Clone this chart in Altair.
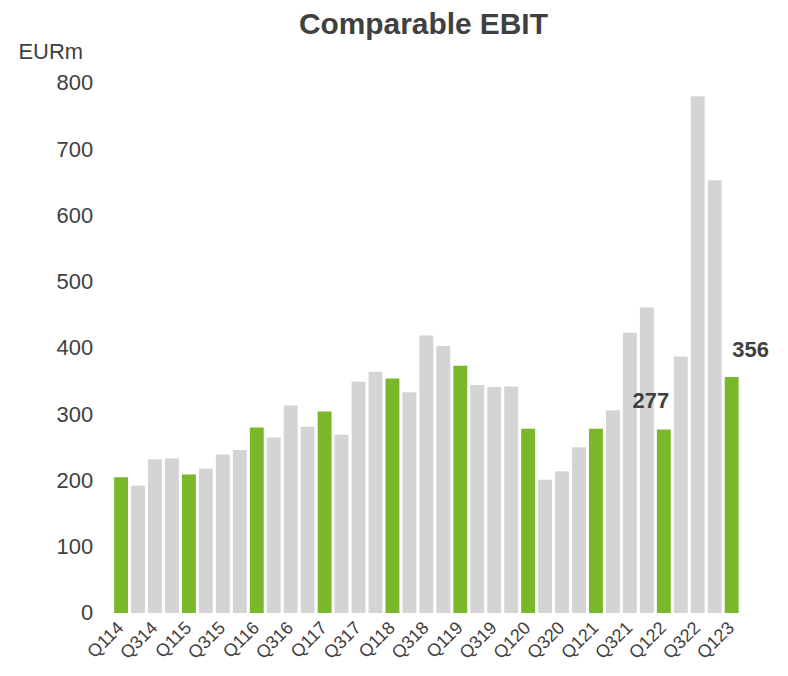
import altair as alt
import pandas as pd

quarters = [
    "Q114", "Q214", "Q314", "Q414",
    "Q115", "Q215", "Q315", "Q415",
    "Q116", "Q216", "Q316", "Q416",
    "Q117", "Q217", "Q317", "Q417",
    "Q118", "Q218", "Q318", "Q418",
    "Q119", "Q219", "Q319", "Q419",
    "Q120", "Q220", "Q320", "Q420",
    "Q121", "Q221", "Q321", "Q421",
    "Q122", "Q222", "Q322", "Q422",
    "Q123",
]
ebit = [
    205, 192, 232, 233,
    209, 218, 239, 246,
    280, 265, 313, 281,
    304, 269, 349, 364,
    354, 333, 419, 403,
    373, 344, 341, 342,
    278, 201, 214, 250,
    278, 306, 423, 461,
    277, 387, 780, 653,
    356,
]
labels = [""] * 32 + ["277", "", "", "", "356"]

GREEN = "#78B82A"
GREY = "#D4D4D4"
TEXT = "#404040"

df = pd.DataFrame({"quarter": quarters, "ebit": ebit, "label": labels})
df["kind"] = ["Q1" if q.startswith("Q1") else "other" for q in quarters]

x = alt.X(
    "quarter:N",
    sort=quarters,
    scale=alt.Scale(paddingInner=0.18, paddingOuter=0.09),
    axis=alt.Axis(
        title=None,
        domain=False,
        ticks=False,
        labelAngle=-45,
        labelAlign="right",
        labelBaseline="middle",
        labelFontSize=18,
        labelColor=TEXT,
        labelFont="Liberation Sans",
        labelPadding=12,
        labelOverlap=False,
        labelExpr="(substring(datum.value,0,2) == 'Q1' || substring(datum.value,0,2) == 'Q3') ? datum.value : ''",
    ),
)
y = alt.Y(
    "ebit:Q",
    scale=alt.Scale(domain=[0, 800], nice=False),
    axis=alt.Axis(
        title="EURm",
        titleAngle=0,
        titleX=-95,
        titleY=-32,
        titleAlign="left",
        titleBaseline="middle",
        titleFontSize=22,
        titleFontWeight="normal",
        titleColor=TEXT,
        titleFont="Liberation Sans",
        values=list(range(0, 801, 100)),
        grid=False,
        domain=False,
        ticks=False,
        labelFontSize=22,
        labelColor=TEXT,
        labelFont="Liberation Sans",
        labelPadding=20,
    ),
)

bars = alt.Chart(df).mark_bar().encode(
    x=x,
    y=y,
    color=alt.Color(
        "kind:N",
        scale=alt.Scale(domain=["Q1", "other"], range=[GREEN, GREY]),
        legend=None,
    ),
)

lab277 = alt.Chart(df).transform_filter("datum.label == '277'").mark_text(
    font="Liberation Sans", fontSize=22, fontWeight="bold", color=TEXT,
    dx=-13, dy=-29, baseline="middle", align="center",
).encode(x=alt.X("quarter:N", sort=quarters), y="ebit:Q", text="label:N")

lab356 = alt.Chart(df).transform_filter("datum.label == '356'").mark_text(
    font="Liberation Sans", fontSize=22, fontWeight="bold", color=TEXT,
    dx=19, dy=-27, baseline="middle", align="center",
).encode(x=alt.X("quarter:N", sort=quarters), y="ebit:Q", text="label:N")

chart = alt.layer(bars, lab277, lab356).properties(
    width=630,
    height=532,
    autosize=alt.AutoSizeParams(type="none"),
    padding={"left": 105, "top": 74, "right": 40, "bottom": 54},
    title=alt.TitleParams(
        "Comparable EBIT",
        fontSize=30,
        fontWeight="bold",
        color=TEXT,
        font="Liberation Sans",
        anchor="middle",
        offset=0,
        dx=-3,
    ),
).configure_view(stroke=None)

chart.save("out.html", embed_options={"renderer": "svg", "actions": False})
